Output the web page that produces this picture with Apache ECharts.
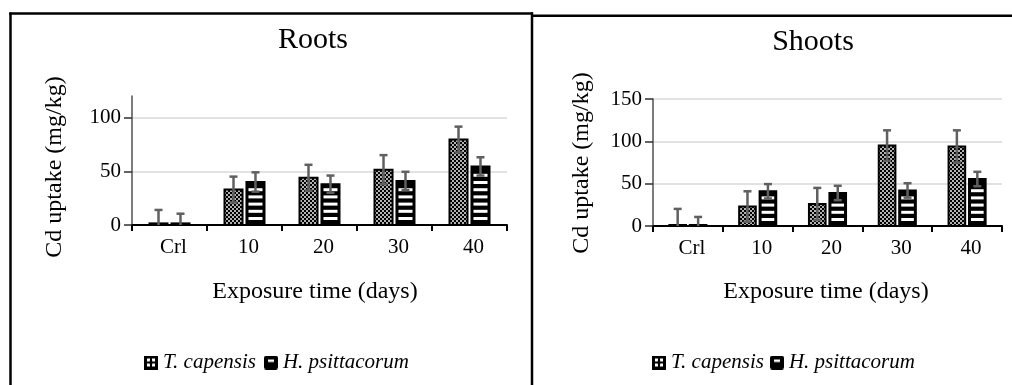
<!DOCTYPE html>
<html>
<head>
<meta charset="utf-8">
<script src="https://cdn.jsdelivr.net/npm/echarts@6/dist/echarts.min.js"></script>
<style>
  html, body { margin: 0; padding: 0; background: #fff; }
  #chart { width: 1012px; height: 385px; }
</style>
</head>
<body>
<div id="chart"></div>
<script>
// Cd uptake over exposure time, roots and shoots panels
const categories = ['Crl', '10', '20', '30', '40'];
const speciesNames = ['T. capensis', 'H. psittacorum'];

const rootsT = [1.5, 33, 44, 51.5, 79.5];
const rootsTErr = [12.5, 12, 12, 13.5, 12];
const rootsH = [1.5, 40, 38, 41, 54.5];
const rootsHErr = [9, 9, 8, 8.5, 8.5];

const shootsT = [1.2, 23, 26, 95, 94];
const shootsTErr = [19, 18, 19, 18, 19];
const shootsH = [1.2, 41, 39, 42, 55.5];
const shootsHErr = [9.5, 8.5, 8.5, 8.5, 8.5];

const rootsTicks = [0, 50, 100];
const shootsTicks = [0, 50, 100, 150];

const SERIF = '"Liberation Serif", "Times New Roman", serif';
const ERR_COLOR = '#606060';

// Dotted checker fill for T. capensis bars
function makeDotPattern() {
  const c = document.createElement('canvas');
  c.width = 4; c.height = 4;
  const g = c.getContext('2d');
  g.fillStyle = '#000';
  g.fillRect(0, 0, 4, 4);
  g.fillStyle = '#fff';
  g.beginPath(); g.arc(1, 1, 0.95, 0, Math.PI * 2); g.fill();
  g.beginPath(); g.arc(3, 3, 0.95, 0, Math.PI * 2); g.fill();
  return c;
}
const dotPattern = makeDotPattern();

function iconT() {
  const c = document.createElement('canvas');
  c.width = 14; c.height = 14;
  const g = c.getContext('2d');
  g.fillStyle = '#000';
  g.fillRect(0, 0, 14, 14);
  g.fillStyle = '#fff';
  [[3, 3], [8, 3], [3, 8], [8, 8]].forEach(function (p) { g.fillRect(p[0], p[1], 3, 3); });
  g.fillStyle = '#000';
  g.fillRect(5.5, 5.5, 3, 3);
  return 'image://' + c.toDataURL();
}
function iconH() {
  const c = document.createElement('canvas');
  c.width = 14; c.height = 14;
  const g = c.getContext('2d');
  g.fillStyle = '#000';
  g.beginPath();
  if (g.roundRect) { g.roundRect(0, 0, 14, 14, 2.5); } else { g.rect(0, 0, 14, 14); }
  g.fill();
  g.fillStyle = '#fff';
  g.fillRect(4, 4, 6, 2.5);
  return 'image://' + c.toDataURL();
}
const legendIcons = [iconT(), iconH()];

function packed(values, errs) {
  return values.map(function (v, i) { return [i, v, errs[i]]; });
}

// Bar with pattern fill plus symmetric error bar, positioned inside the category band
function barRenderer(kind) {
  return function (params, api) {
    const idx = api.value(0);
    const v = api.value(1);
    const e = api.value(2);
    const band = api.size([1, 0])[0];
    const bw = band * 0.267;
    const gap = band * 0.026;
    const base = api.coord([idx, 0]);
    const top = api.coord([idx, v]);
    const cx = base[0] + (kind === 'T' ? -(bw + gap) / 2 : (bw + gap) / 2);
    const x0 = cx - bw / 2 + 1;
    const y0 = top[1];
    const h = Math.max(base[1] - top[1], 0.5);
    const children = [];
    if (kind === 'T') {
      children.push({
        type: 'rect',
        shape: { x: x0, y: y0, width: bw - 2, height: h },
        style: { fill: { image: dotPattern, repeat: 'repeat' }, stroke: '#000', lineWidth: 2 }
      });
    } else {
      children.push({
        type: 'rect',
        shape: { x: x0, y: y0, width: bw - 2, height: h },
        style: { fill: '#000', stroke: '#000', lineWidth: 2 }
      });
      const period = 7.2;
      for (let y = base[1] - 5 - 3; y >= y0 + 4; y -= period) {
        children.push({
          type: 'rect',
          shape: { x: cx - bw / 2 + 3, y: y, width: bw - 6, height: 3 },
          style: { fill: '#fff' }
        });
      }
    }
    const hi = api.coord([idx, v + e])[1];
    const lo = api.coord([idx, Math.max(v - e, 0)])[1];
    const cap = 4;
    children.push({
      type: 'line', shape: { x1: cx, y1: hi, x2: cx, y2: lo },
      style: { stroke: ERR_COLOR, lineWidth: 2.5 }
    });
    children.push({
      type: 'line', shape: { x1: cx - cap, y1: hi, x2: cx + cap, y2: hi },
      style: { stroke: ERR_COLOR, lineWidth: 2.5 }
    });
    if (v - e > 0) {
      children.push({
        type: 'line', shape: { x1: cx - cap, y1: lo, x2: cx + cap, y2: lo },
        style: { stroke: ERR_COLOR, lineWidth: 2.5 }
      });
    }
    return { type: 'group', children: children };
  };
}

function xAxisFor(gridIndex) {
  return {
    type: 'category', gridIndex: gridIndex, data: categories,
    axisLine: { show: true, lineStyle: { color: '#000', width: 2 } },
    axisTick: { show: true, length: 6, lineStyle: { color: '#000', width: 2 } },
    axisLabel: { fontFamily: SERIF, fontSize: 21, color: '#000', margin: 12, padding: [0, 0, 0, 8] },
    splitLine: { show: false }
  };
}
function yAxisFor(gridIndex, max, ticks) {
  return {
    type: 'value', gridIndex: gridIndex, min: 0, max: max, interval: 50,
    axisLine: { show: true, lineStyle: { color: '#505050', width: 1.5 } },
    axisTick: { show: true, length: 8, customValues: ticks, lineStyle: { color: '#303030', width: 1.5 } },
    axisLabel: { fontFamily: SERIF, fontSize: 21, color: '#000', margin: 11, customValues: ticks },
    splitLine: { show: true, lineStyle: { color: '#d9d9d9', width: 1.5 } }
  };
}
function legendFor(left, gap) {
  return {
    left: left, top: 347, orient: 'horizontal',
    itemWidth: 14, itemHeight: 14, itemGap: gap,
    data: speciesNames.map(function (n, i) { return { name: n, icon: legendIcons[i] }; }),
    textStyle: { fontFamily: SERIF, fontStyle: 'italic', fontSize: 21, color: '#000' }
  };
}
function titleText(text, x, y, size, rotate) {
  return {
    type: 'text', x: x, y: y, rotation: rotate ? Math.PI / 2 : 0, silent: true,
    style: { text: text, font: size + 'px ' + SERIF, fill: '#000', align: 'center', verticalAlign: 'middle' }
  };
}
function frameLine(x1, y1, x2, y2) {
  return {
    type: 'line', silent: true,
    shape: { x1: x1, y1: y1, x2: x2, y2: y2 },
    style: { stroke: '#000', lineWidth: 2.5 }
  };
}

const chart = echarts.init(document.getElementById('chart'), null, { renderer: 'canvas' });
chart.setOption({
  animation: false,
  backgroundColor: '#fff',
  grid: [
    { left: 132, top: 96, width: 375, height: 129 },
    { left: 653, top: 99, width: 349, height: 127 }
  ],
  xAxis: [xAxisFor(0), xAxisFor(1)],
  yAxis: [yAxisFor(0, 120, rootsTicks), yAxisFor(1, 150, shootsTicks)],
  legend: [legendFor(139, 8), legendFor(647, 6)],
  series: [
    { name: speciesNames[0], type: 'custom', xAxisIndex: 0, yAxisIndex: 0, color: '#000',
      encode: { x: 0, y: 1 }, data: packed(rootsT, rootsTErr), renderItem: barRenderer('T') },
    { name: speciesNames[1], type: 'custom', xAxisIndex: 0, yAxisIndex: 0, color: '#000',
      encode: { x: 0, y: 1 }, data: packed(rootsH, rootsHErr), renderItem: barRenderer('H') },
    { name: speciesNames[0], type: 'custom', xAxisIndex: 1, yAxisIndex: 1, color: '#000',
      encode: { x: 0, y: 1 }, data: packed(shootsT, shootsTErr), renderItem: barRenderer('T') },
    { name: speciesNames[1], type: 'custom', xAxisIndex: 1, yAxisIndex: 1, color: '#000',
      encode: { x: 0, y: 1 }, data: packed(shootsH, shootsHErr), renderItem: barRenderer('H') }
  ],
  graphic: [
    frameLine(10.5, 12.5, 10.5, 390),
    frameLine(9.25, 13.5, 533, 13.5),
    frameLine(532, 12.25, 532, 390),
    frameLine(531, 15.8, 1012, 15.8),
    titleText('Roots', 313, 40, 30),
    titleText('Shoots', 813, 42, 30),
    titleText('Cd uptake (mg/kg)', 55, 167, 24, true),
    titleText('Cd uptake (mg/kg)', 582, 163, 24, true),
    titleText('Exposure time (days)', 315, 292, 24),
    titleText('Exposure time (days)', 826, 292, 24)
  ]
});
</script>
</body>
</html>
